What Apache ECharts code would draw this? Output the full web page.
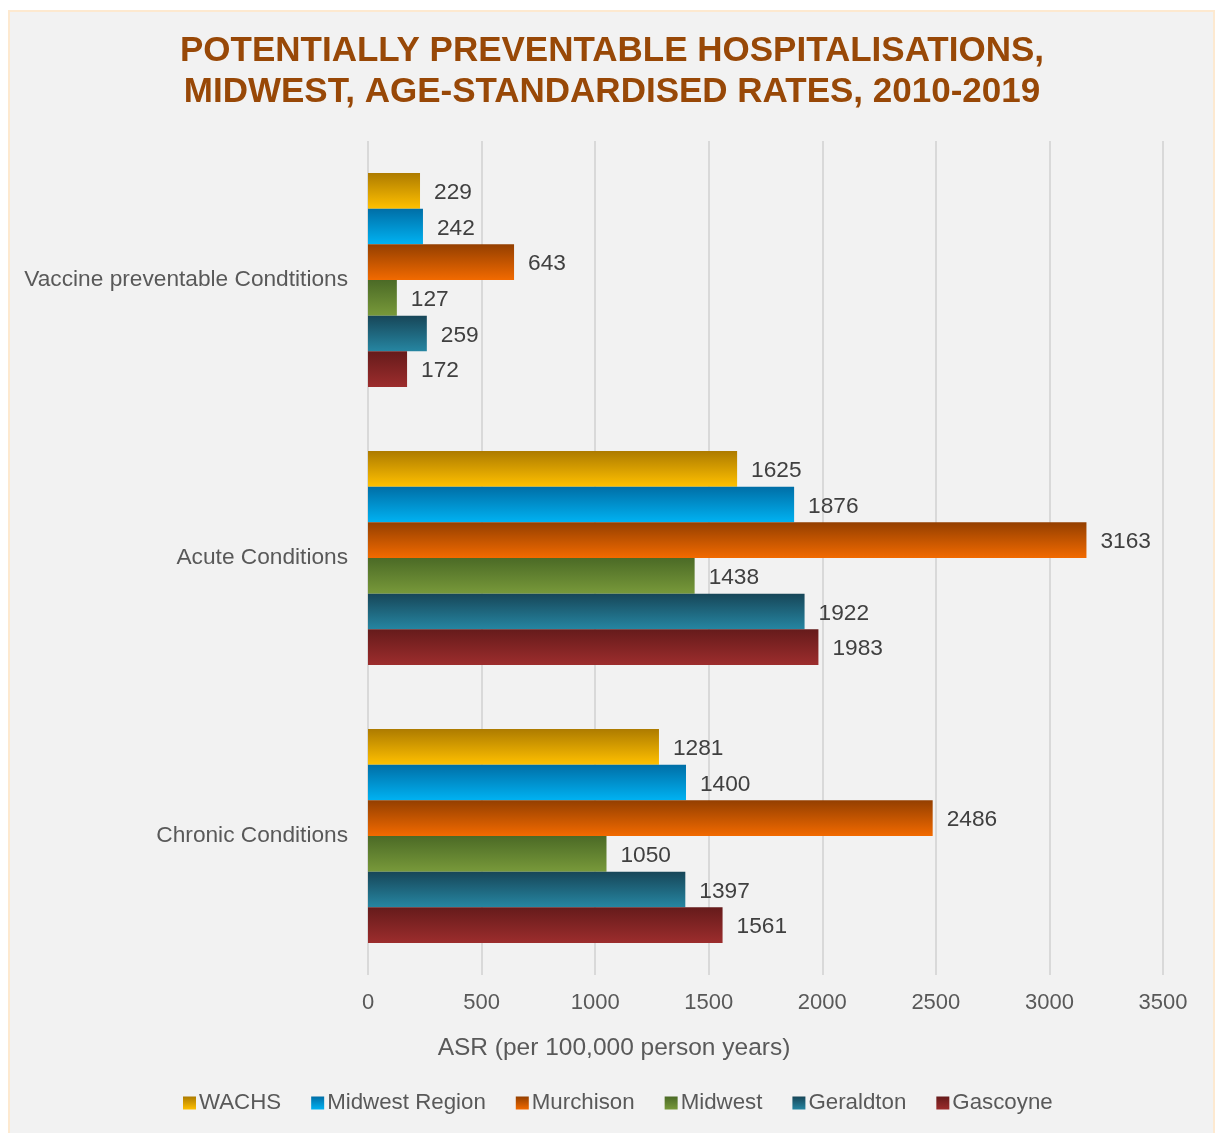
<!DOCTYPE html>
<html><head><meta charset="utf-8">
<script src="https://cdn.jsdelivr.net/npm/echarts@6/dist/echarts.min.js"></script>
<style>html,body{margin:0;padding:0;background:#fff}#c{width:1215px;height:1133px}</style>
</head><body><div id="c"></div>
<script>
const categories = ["Vaccine preventable Condtitions", "Acute Conditions", "Chronic Conditions"];
const seriesNames = ["WACHS", "Midwest Region", "Murchison", "Midwest", "Geraldton", "Gascoyne"];
const WACHS = [229, 1625, 1281];
const MidwestRegion = [242, 1876, 1400];
const Murchison = [643, 3163, 2486];
const Midwest = [127, 1438, 1050];
const Geraldton = [259, 1922, 1397];
const Gascoyne = [172, 1983, 1561];
const xTicks = [0, 500, 1000, 1500, 2000, 2500, 3000, 3500];

const values = [WACHS, MidwestRegion, Murchison, Midwest, Geraldton, Gascoyne];
const grads = [["#ad7b00", "#ffc000"], ["#006ea6", "#00b2f2"], ["#943f00", "#f26a00"], ["#4b6a26", "#78993a"], ["#174658", "#2686a2"], ["#661b1b", "#9c2d2d"]];
const font = "Liberation Sans, Arial, sans-serif";

const chart = echarts.init(document.getElementById('c'));
chart.setOption({
  backgroundColor: '#ffffff',
  animation: false,
  graphic: [{
    type: 'rect', left: 8, top: 10, z: -10,
    shape: { width: 1205, height: 1130 },
    style: { fill: '#f2f2f2', stroke: '#fde9d0', lineWidth: 2 }
  }],
  title: [{
    text: "POTENTIALLY PREVENTABLE HOSPITALISATIONS,\nMIDWEST, AGE-STANDARDISED RATES, 2010-2019",
    left: 607, top: 26, textAlign: 'center',
    textStyle: { fontFamily: font, fontSize: 35, fontWeight: 'bold', color: '#984807', lineHeight: 41 }
  }, {
    text: "ASR (per 100,000 person years)",
    left: 609, top: 1031, textAlign: 'center',
    textStyle: { fontFamily: font, fontSize: 24.5, fontWeight: 'normal', color: '#595959' }
  }],
  legend: {
    data: seriesNames, bottom: 14, left: 178,
    itemWidth: 13, itemHeight: 13, itemGap: 30,
    icon: 'rect',
    textStyle: { fontFamily: font, fontSize: 22.3, color: '#595959', padding: [0, 0, 0, -2] }
  },
  grid: { left: 368, right: 52, top: 141, bottom: 158, containLabel: false },
  xAxis: {
    type: 'value', min: 0, max: 3500, interval: 500,
    axisLine: { show: false }, axisTick: { show: false },
    splitLine: { lineStyle: { color: '#d9d9d9', width: 2 } },
    axisLabel: { fontFamily: font, fontSize: 22, color: '#595959', margin: 17,
      formatter: v => xTicks.includes(v) ? String(v) : '' }
  },
  yAxis: {
    type: 'category', data: categories, inverse: true,
    axisLine: { show: false }, axisTick: { show: false },
    axisLabel: { fontFamily: font, fontSize: 22.7, color: '#595959', margin: 20 }
  },
  series: seriesNames.map((name, i) => ({
    name, type: 'bar', data: values[i],
    barGap: '0%', barCategoryGap: '23%',
    itemStyle: { color: new echarts.graphic.LinearGradient(0, 0, 0, 1, [
      { offset: 0, color: grads[i][0] }, { offset: 1, color: grads[i][1] }]) },
    label: { show: true, position: 'right', distance: 14, offset: [0, 2],
      fontFamily: font, fontSize: 22.7, color: '#404040' }
  }))
});
</script></body></html>
